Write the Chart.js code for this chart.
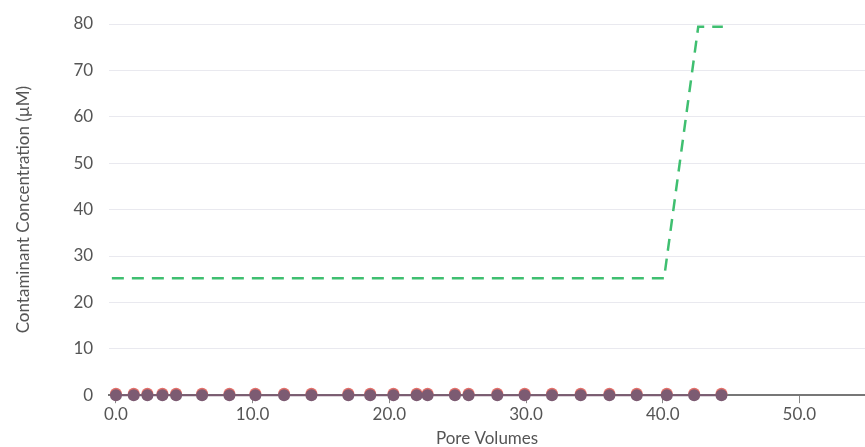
<!DOCTYPE html>
<html>
<head>
<meta charset="utf-8">
<script src="https://cdn.jsdelivr.net/npm/chart.js@4"></script>
<style>
  body { margin: 0; background: #fff; }
  #wrap { width: 865px; height: 447px; }
</style>
</head>
<body>
<div id="wrap"><canvas id="grafico"></canvas></div>
<script>
// valores
const volumesPoros = [0.0, 1.3, 2.3, 3.4, 4.4, 6.3, 8.3, 10.2, 12.3, 14.3, 17.0, 18.6, 20.3, 22.0, 22.8, 24.8, 25.8, 27.9, 29.9, 31.9, 34.0, 36.1, 38.1, 40.3, 42.3, 44.3];
const efluente = [0, 0, 0, 0, 0, 0, 0, 0, 0, 0, 0, 0, 0, 0, 0, 0, 0, 0, 0, 0, 0, 0, 0, 0, 0, 0];
const afluente = [0.3, 0.3, 0.3, 0.3, 0.3, 0.3, 0.3, 0.3, 0.3, 0.3, 0.3, 0.3, 0.3, 0.3, 0.3, 0.3, 0.3, 0.3, 0.3, 0.3, 0.3, 0.3, 0.3, 0.3, 0.3, 0.3];

const limiteX = [-0.3, 40.1, 42.6, 44.4];
const limiteY = [25.2, 25.2, 79.4, 79.4];

const ticksX = [0, 10, 20, 30, 40, 50];
const ticksY = [0, 10, 20, 30, 40, 50, 60, 70, 80];

const fonte = { family: 'Lato', size: 17 };

const ctx = document.getElementById('grafico');

function pontos(xs, ys) {
  return xs.map((x, i) => ({ x: x, y: ys[i] }));
}

const graficoPoros = new Chart(ctx, {
  type: 'line',
  data: {
    datasets: [
      {
        label: 'Limite',
        data: pontos(limiteX, limiteY),
        borderColor: '#3fbf70',
        borderWidth: 2.5,
        borderDash: [12, 8],
        pointRadius: 0,
        fill: false,
        tension: 0
      },
      {
        label: 'Efluente',
        data: pontos(volumesPoros, efluente),
        borderColor: '#7c5b72',
        backgroundColor: '#7c5b72',
        borderWidth: 2,
        pointRadius: 6,
        pointBorderWidth: 0,
        clip: false,
        tension: 0
      },
      {
        label: 'Afluente',
        data: pontos(volumesPoros, afluente),
        showLine: false,
        borderColor: '#e4706a',
        backgroundColor: '#e4706a',
        pointRadius: 6,
        pointBorderWidth: 0,
        clip: false
      }
    ]
  },
  options: {
    responsive: true,
    maintainAspectRatio: false,
    animation: false,
    layout: { autoPadding: false, padding: { top: 24, right: 0, left: 13, bottom: -2 } },
    plugins: {
      legend: { display: false },
      tooltip: { enabled: false }
    },
    scales: {
      x: {
        type: 'linear',
        min: -0.5,
        max: 54.8,
        afterBuildTicks: (eixo) => { eixo.ticks = ticksX.map(v => ({ value: v })); },
        afterFit: (eixo) => { eixo.paddingRight = 0; },
        ticks: {
          color: '#555',
          font: fonte,
          padding: 1,
          callback: (v) => Number(v).toFixed(1)
        },
        grid: {
          drawOnChartArea: false,
          drawTicks: true,
          tickLength: 8,
          color: '#888'
        },
        border: { display: true, color: '#777', width: 2 },
        title: {
          display: true,
          text: 'Pore Volumes',
          color: '#555',
          font: fonte,
          padding: { top: 3, bottom: 0 }
        }
      },
      y: {
        min: 0,
        max: 80,
        afterBuildTicks: (eixo) => { eixo.ticks = ticksY.map(v => ({ value: v })); },
        afterFit: (eixo) => { eixo.paddingTop = 0; },
        ticks: {
          color: '#555',
          font: fonte,
          padding: 16
        },
        grid: {
          color: '#e9e9ef',
          drawTicks: false
        },
        border: { display: false },
        title: {
          display: true,
          text: 'Contaminant Concentration (µM)',
          color: '#555',
          font: fonte,
          padding: { top: 0, bottom: 24 }
        }
      }
    }
  }
});
</script>
</body>
</html>
